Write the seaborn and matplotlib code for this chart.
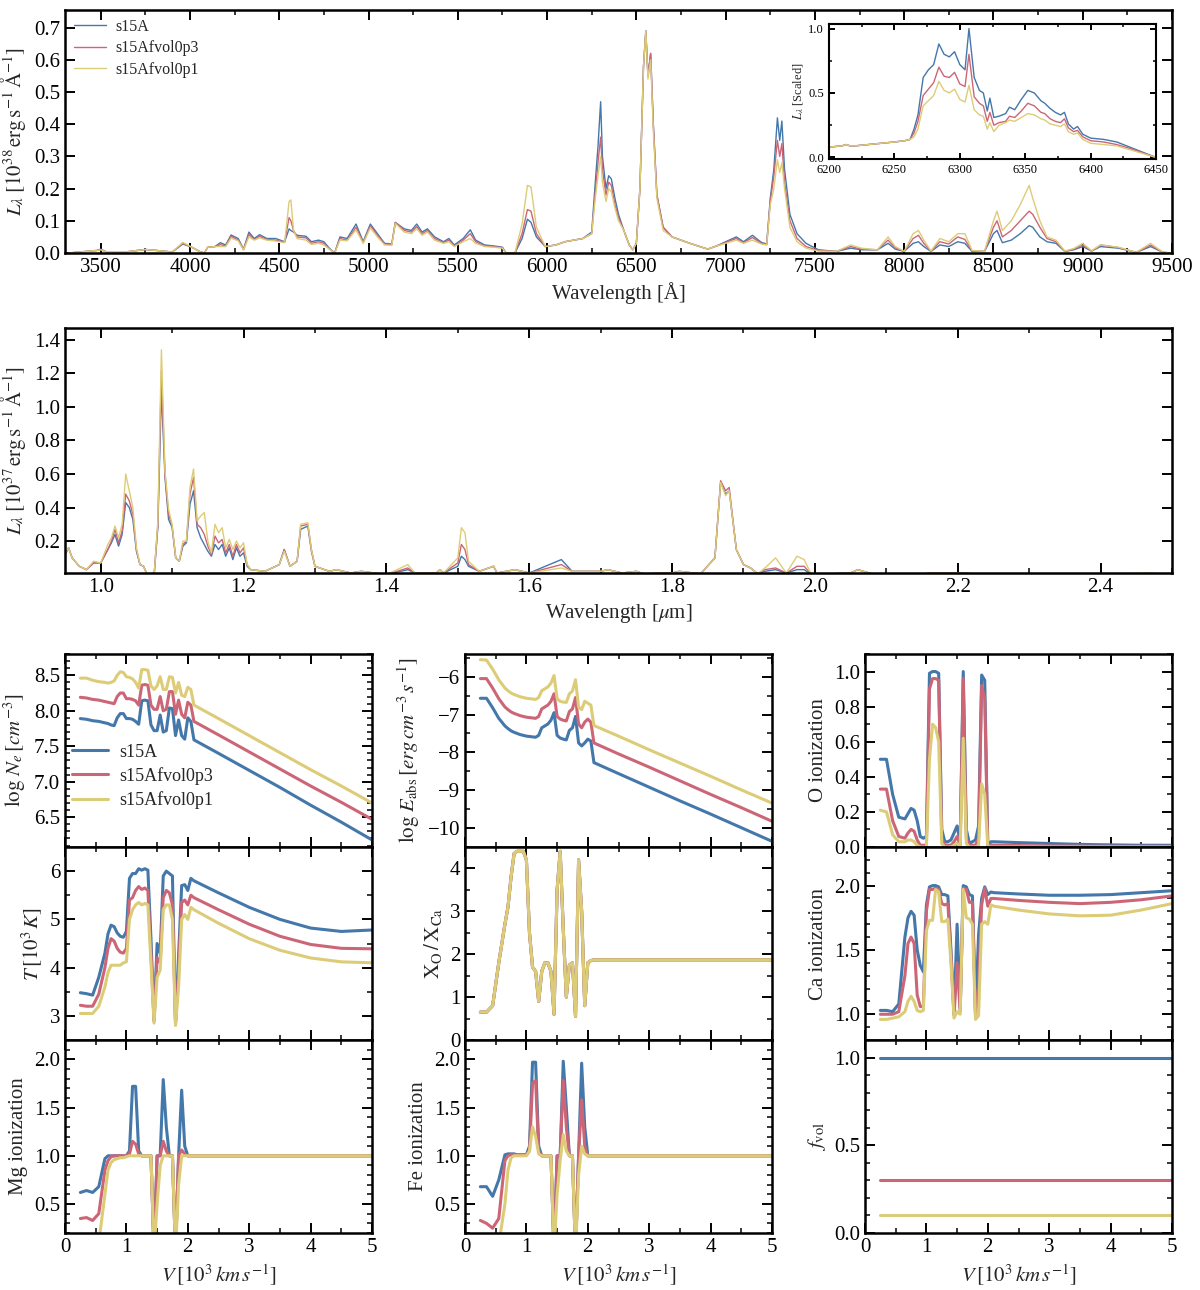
import matplotlib
matplotlib.use("Agg")
import matplotlib.pyplot as plt
from matplotlib.ticker import MultipleLocator, NullLocator
import seaborn as sns

# -------------------------------
# Data
# -------------------------------
names = ["s15A", "s15Afvol0p3", "s15Afvol0p1"]

# optical spectrum, 1e38 erg/s/A
opt_wave = [3320, 3400, 3480, 3500, 3530, 3650, 3750, 3850, 3900, 3960,
            4010, 4060, 4080, 4100, 4140, 4170, 4200, 4230, 4270, 4300,
            4330, 4360, 4390, 4430, 4480, 4530, 4555, 4565, 4580, 4600,
            4650, 4680, 4720, 4750, 4780, 4810, 4840, 4880, 4930, 4970,
            5010, 5050, 5090, 5130, 5150, 5200, 5240, 5270, 5300, 5330,
            5370, 5420, 5450, 5480, 5530, 5570, 5600, 5650, 5700, 5750,
            5770, 5820, 5860, 5890, 5910, 5940, 5990, 6050, 6100, 6150,
            6200, 6250, 6270, 6285, 6300, 6310, 6330, 6345, 6360, 6380,
            6400, 6430, 6460, 6480, 6500, 6520, 6540, 6553, 6565, 6580,
            6595, 6615, 6650, 6700, 6800, 6900, 6950, 7000, 7060, 7100,
            7150, 7200, 7230, 7250, 7270, 7290, 7303, 7315, 7330, 7360,
            7400, 7450, 7520, 7620, 7700, 7760, 7850, 7910, 7950, 8000,
            8050, 8080, 8110, 8150, 8200, 8250, 8300, 8340, 8380, 8450,
            8500, 8520, 8550, 8600, 8650, 8700, 8720, 8760, 8800, 8850,
            8900, 8950, 9000, 9050, 9100, 9200, 9300, 9380, 9450, 9500]
opt_s15A = [0.0, 0.004, 0.008, 0.012, 0.004, 0.004, 0.011, 0.006, 0.003, 0.028,
            0.018, 0.003, 0.0, 0.018, 0.02, 0.032, 0.025, 0.056, 0.045, 0.012,
            0.065, 0.045, 0.057, 0.045, 0.045, 0.035, 0.075, 0.07, 0.065, 0.055,
            0.052, 0.035, 0.04, 0.035, 0.015, 0.0, 0.05, 0.045, 0.09, 0.035,
            0.09, 0.06, 0.03, 0.028, 0.095, 0.075, 0.07, 0.09, 0.065, 0.075,
            0.05, 0.035, 0.045, 0.025, 0.045, 0.072, 0.04, 0.025, 0.022, 0.018,
            0.0, 0.0, 0.045, 0.105, 0.095, 0.05, 0.02, 0.025, 0.035, 0.04,
            0.045, 0.065, 0.22, 0.33, 0.47, 0.3, 0.2, 0.24, 0.23, 0.17,
            0.12, 0.07, 0.025, 0.01, 0.03, 0.2, 0.58, 0.69, 0.55, 0.62,
            0.4, 0.18, 0.08, 0.05, 0.03, 0.012, 0.022, 0.035, 0.05, 0.035,
            0.055, 0.033, 0.028, 0.17, 0.26, 0.42, 0.35, 0.41, 0.26, 0.12,
            0.06, 0.03, 0.01, 0.005, 0.015, 0.01, 0.01, 0.03, 0.012, 0.005,
            0.03, 0.035, 0.02, 0.005, 0.025, 0.02, 0.035, 0.03, 0.005, 0.005,
            0.06, 0.07, 0.032, 0.04, 0.06, 0.085, 0.08, 0.05, 0.035, 0.03,
            0.005, 0.01, 0.02, 0.006, 0.02, 0.015, 0.002, 0.02, 0.002, 0.0]
opt_p3 = [0.0, 0.004, 0.008, 0.01, 0.004, 0.004, 0.011, 0.006, 0.003, 0.03,
          0.018, 0.003, 0.0, 0.018, 0.02, 0.026, 0.022, 0.052, 0.04, 0.01,
          0.058, 0.042, 0.052, 0.042, 0.04, 0.033, 0.11, 0.1, 0.07, 0.05,
          0.047, 0.03, 0.035, 0.03, 0.013, 0.0, 0.045, 0.04, 0.08, 0.032,
          0.085, 0.055, 0.028, 0.026, 0.095, 0.07, 0.065, 0.082, 0.06, 0.07,
          0.045, 0.032, 0.04, 0.022, 0.04, 0.06, 0.035, 0.022, 0.02, 0.016,
          0.0, 0.0, 0.06, 0.135, 0.13, 0.06, 0.02, 0.025, 0.035, 0.04,
          0.045, 0.06, 0.19, 0.28, 0.36, 0.26, 0.18, 0.22, 0.21, 0.15,
          0.11, 0.07, 0.025, 0.01, 0.03, 0.2, 0.58, 0.69, 0.55, 0.62,
          0.4, 0.18, 0.08, 0.05, 0.03, 0.012, 0.022, 0.033, 0.045, 0.032,
          0.048, 0.03, 0.026, 0.16, 0.24, 0.35, 0.3, 0.34, 0.22, 0.1,
          0.045, 0.02, 0.008, 0.005, 0.02, 0.012, 0.01, 0.04, 0.016, 0.005,
          0.045, 0.055, 0.03, 0.005, 0.035, 0.028, 0.05, 0.042, 0.006, 0.005,
          0.08, 0.1, 0.05, 0.07, 0.1, 0.13, 0.12, 0.08, 0.045, 0.035,
          0.005, 0.012, 0.025, 0.006, 0.025, 0.017, 0.002, 0.025, 0.002, 0.0]
opt_p1 = [0.0, 0.004, 0.008, 0.01, 0.004, 0.004, 0.011, 0.006, 0.003, 0.033,
          0.018, 0.003, 0.0, 0.018, 0.02, 0.02, 0.02, 0.046, 0.038, 0.01,
          0.05, 0.04, 0.047, 0.04, 0.037, 0.032, 0.16, 0.165, 0.07, 0.045,
          0.04, 0.027, 0.03, 0.025, 0.012, 0.0, 0.04, 0.038, 0.072, 0.03,
          0.078, 0.05, 0.025, 0.024, 0.092, 0.065, 0.06, 0.075, 0.055, 0.065,
          0.04, 0.03, 0.035, 0.02, 0.035, 0.045, 0.03, 0.02, 0.018, 0.015,
          0.0, 0.0, 0.09, 0.21, 0.205, 0.08, 0.02, 0.025, 0.035, 0.04,
          0.045, 0.06, 0.17, 0.24, 0.3, 0.22, 0.16, 0.2, 0.19, 0.14,
          0.1, 0.07, 0.025, 0.01, 0.03, 0.2, 0.58, 0.69, 0.54, 0.6,
          0.38, 0.17, 0.07, 0.05, 0.03, 0.012, 0.022, 0.03, 0.04, 0.03,
          0.04, 0.028, 0.025, 0.15, 0.2, 0.29, 0.25, 0.28, 0.2, 0.08,
          0.035, 0.015, 0.006, 0.005, 0.025, 0.015, 0.01, 0.05, 0.02, 0.005,
          0.06, 0.07, 0.04, 0.006, 0.045, 0.035, 0.06, 0.06, 0.008, 0.005,
          0.1, 0.13, 0.07, 0.1, 0.15, 0.21, 0.17, 0.1, 0.05, 0.04,
          0.006, 0.014, 0.03, 0.007, 0.025, 0.018, 0.002, 0.03, 0.002, 0.0]

# inset: [OI] 6300,6364 region, scaled
ins_wave = [6200, 6205, 6210, 6213, 6216, 6220, 6230, 6240, 6250, 6258,
            6262, 6265, 6268, 6272, 6276, 6280, 6284, 6288, 6292, 6296,
            6300, 6304, 6307, 6311, 6315, 6318, 6321, 6323, 6326, 6330,
            6335, 6338, 6342, 6347, 6352, 6357, 6362, 6365, 6369, 6373,
            6377, 6380, 6383, 6387, 6390, 6394, 6400, 6410, 6420, 6430,
            6440, 6450]
ins_s15A = [0.08, 0.085, 0.09, 0.1, 0.09, 0.09, 0.1, 0.11, 0.12, 0.13,
            0.14, 0.22, 0.33, 0.62, 0.68, 0.72, 0.88, 0.8, 0.78, 0.82,
            0.72, 0.68, 1.0, 0.62, 0.52, 0.5, 0.36, 0.46, 0.31, 0.32,
            0.34, 0.39, 0.37, 0.45, 0.52, 0.5, 0.44, 0.42, 0.38, 0.35,
            0.33, 0.35, 0.26, 0.22, 0.24, 0.18, 0.15, 0.14, 0.12, 0.08,
            0.04, 0.0]
ins_p3 = [0.08, 0.085, 0.09, 0.1, 0.09, 0.09, 0.1, 0.11, 0.12, 0.13,
          0.14, 0.19, 0.28, 0.48, 0.53, 0.58, 0.7, 0.63, 0.62, 0.66,
          0.57, 0.55, 0.8, 0.47, 0.42, 0.4, 0.28, 0.35, 0.25, 0.27,
          0.28, 0.32, 0.31, 0.36, 0.42, 0.4, 0.35, 0.34, 0.3, 0.28,
          0.27, 0.3, 0.23, 0.2, 0.21, 0.16, 0.13, 0.12, 0.1, 0.07,
          0.035, 0.0]
ins_p1 = [0.08, 0.085, 0.09, 0.1, 0.09, 0.09, 0.1, 0.11, 0.12, 0.13,
          0.14, 0.16, 0.22, 0.4, 0.44, 0.48, 0.59, 0.52, 0.5, 0.53,
          0.45, 0.43, 0.56, 0.37, 0.33, 0.32, 0.22, 0.27, 0.2, 0.25,
          0.27, 0.29, 0.28, 0.31, 0.34, 0.33, 0.3, 0.29, 0.26, 0.25,
          0.24, 0.26, 0.2, 0.18, 0.19, 0.14, 0.11, 0.1, 0.09, 0.06,
          0.03, 0.0]

# near-IR spectrum, 1e37 erg/s/A
nir_wave = [0.95, 0.955, 0.96, 0.97, 0.98, 0.99, 1.0, 1.01, 1.015, 1.02,
            1.025, 1.03, 1.035, 1.04, 1.045, 1.05, 1.055, 1.06, 1.065, 1.075,
            1.08, 1.085, 1.09, 1.095, 1.1, 1.105, 1.11, 1.115, 1.12, 1.125,
            1.13, 1.135, 1.14, 1.145, 1.15, 1.155, 1.16, 1.165, 1.17, 1.175,
            1.18, 1.185, 1.19, 1.195, 1.2, 1.205, 1.21, 1.23, 1.25, 1.257,
            1.265, 1.275, 1.28, 1.29, 1.295, 1.3, 1.32, 1.33, 1.35, 1.365,
            1.4, 1.43, 1.44, 1.47, 1.475, 1.48, 1.5, 1.505, 1.51, 1.515,
            1.53, 1.55, 1.555, 1.58, 1.6, 1.645, 1.66, 1.7, 1.71, 1.73,
            1.75, 1.76, 1.8, 1.81, 1.84, 1.86, 1.868, 1.875, 1.88, 1.89,
            1.9, 1.91, 1.92, 1.93, 1.945, 1.96, 1.975, 1.985, 1.995, 2.05,
            2.06, 2.08, 2.15, 2.16, 2.2, 2.25, 2.3, 2.4, 2.47, 2.5]
nir_s15A = [0.12, 0.16, 0.1, 0.05, 0.03, 0.07, 0.07, 0.15, 0.19, 0.24,
            0.17, 0.24, 0.43, 0.4, 0.33, 0.14, 0.06, 0.05, 0.0, 0.01,
            0.28, 1.1, 0.58, 0.33, 0.28, 0.1, 0.08, 0.17, 0.19, 0.42,
            0.5, 0.28, 0.22, 0.18, 0.14, 0.11, 0.18, 0.15, 0.18, 0.11,
            0.16, 0.09, 0.16, 0.11, 0.13, 0.05, 0.03, 0.02, 0.06, 0.15,
            0.05, 0.08, 0.27, 0.29, 0.14, 0.05, 0.02, 0.03, 0.01, 0.02,
            0.0, 0.03, 0.01, 0.01, 0.03, 0.01, 0.05, 0.11, 0.09, 0.05,
            0.02, 0.05, 0.01, 0.03, 0.01, 0.09, 0.02, 0.02, 0.03, 0.01,
            0.02, 0.005, 0.01, 0.02, 0.005, 0.1, 0.55, 0.48, 0.5, 0.15,
            0.06, 0.04, 0.005, 0.02, 0.03, 0.01, 0.03, 0.03, 0.0, 0.01,
            0.03, 0.005, 0.0, 0.01, 0.01, 0.0, 0.0, 0.0, 0.005, 0.0]
nir_p3 = [0.12, 0.16, 0.1, 0.05, 0.03, 0.07, 0.07, 0.15, 0.2, 0.27,
          0.19, 0.26, 0.48, 0.44, 0.36, 0.15, 0.06, 0.05, 0.0, 0.01,
          0.3, 1.22, 0.6, 0.36, 0.29, 0.1, 0.08, 0.18, 0.2, 0.48,
          0.58, 0.3, 0.28, 0.24, 0.17, 0.12, 0.23, 0.19, 0.21, 0.13,
          0.18, 0.11, 0.18, 0.13, 0.16, 0.06, 0.03, 0.02, 0.06, 0.15,
          0.05, 0.08, 0.29, 0.3, 0.15, 0.05, 0.02, 0.03, 0.01, 0.02,
          0.0, 0.04, 0.01, 0.01, 0.03, 0.01, 0.07, 0.18, 0.15, 0.06,
          0.02, 0.05, 0.01, 0.03, 0.01, 0.06, 0.02, 0.02, 0.03, 0.01,
          0.02, 0.005, 0.01, 0.02, 0.005, 0.1, 0.56, 0.5, 0.52, 0.15,
          0.06, 0.04, 0.005, 0.03, 0.04, 0.01, 0.05, 0.05, 0.0, 0.01,
          0.03, 0.005, 0.0, 0.01, 0.01, 0.0, 0.0, 0.0, 0.005, 0.0]
nir_p1 = [0.13, 0.16, 0.1, 0.05, 0.03, 0.08, 0.07, 0.18, 0.22, 0.29,
          0.22, 0.3, 0.6, 0.5, 0.4, 0.16, 0.06, 0.05, 0.0, 0.01,
          0.32, 1.34, 0.62, 0.39, 0.3, 0.1, 0.08, 0.2, 0.2, 0.52,
          0.63, 0.32, 0.35, 0.37, 0.2, 0.13, 0.3, 0.25, 0.28, 0.16,
          0.21, 0.15, 0.2, 0.16, 0.19, 0.06, 0.03, 0.02, 0.06, 0.14,
          0.05, 0.08, 0.3, 0.31, 0.15, 0.05, 0.02, 0.03, 0.01, 0.02,
          0.0, 0.06, 0.01, 0.01, 0.03, 0.01, 0.1, 0.28, 0.25, 0.08,
          0.02, 0.05, 0.01, 0.03, 0.01, 0.04, 0.02, 0.02, 0.03, 0.01,
          0.02, 0.005, 0.01, 0.02, 0.005, 0.1, 0.55, 0.47, 0.5, 0.15,
          0.06, 0.04, 0.005, 0.04, 0.1, 0.01, 0.11, 0.09, 0.0, 0.01,
          0.03, 0.005, 0.0, 0.01, 0.01, 0.0, 0.0, 0.0, 0.01, 0.0]

# ejecta properties vs velocity (1e3 km/s)
vel = [0.25, 0.35, 0.45, 0.55, 0.65, 0.7, 0.75, 0.8, 0.85, 0.9,
       0.95, 1.0, 1.05, 1.1, 1.15, 1.2, 1.25, 1.3, 1.35, 1.4,
       1.45, 1.5, 1.55, 1.6, 1.65, 1.7, 1.75, 1.8, 1.85, 1.9,
       1.95, 2.0, 2.05, 2.1, 2.5, 3.0, 3.5, 4.0, 4.5, 5.0]

ne_s15A = [7.89, 7.88, 7.86, 7.85, 7.83, 7.82, 7.8, 7.79, 7.9, 7.96,
           7.96, 7.89, 7.89, 7.88, 7.85, 7.81, 8.14, 8.15, 8.14, 7.8,
           7.72, 7.72, 7.94, 7.7, 7.72, 8.04, 8.03, 7.65, 7.87, 7.65,
           7.6, 7.9, 7.85, 7.59, 7.40, 7.16, 6.92, 6.67, 6.43, 6.18]
ne_p3 = [8.19, 8.18, 8.16, 8.15, 8.13, 8.12, 8.11, 8.1, 8.2, 8.25,
         8.25, 8.17, 8.17, 8.16, 8.14, 8.08, 8.36, 8.37, 8.36, 8.08,
         8.02, 8.02, 8.2, 8.0, 8.02, 8.27, 8.27, 7.95, 8.15, 7.95,
         7.9, 8.12, 8.08, 7.85, 7.66, 7.42, 7.18, 6.94, 6.71, 6.47]
ne_p1 = [8.46, 8.46, 8.43, 8.41, 8.4, 8.39, 8.4, 8.42, 8.5, 8.55,
         8.54, 8.48, 8.47, 8.45, 8.4, 8.32, 8.58, 8.58, 8.57, 8.35,
         8.3, 8.35, 8.48, 8.3, 8.3, 8.48, 8.47, 8.25, 8.4, 8.22,
         8.2, 8.33, 8.3, 8.08, 7.89, 7.65, 7.41, 7.17, 6.94, 6.7]

t_s15A = [3.48, 3.46, 3.43, 3.8, 4.3, 4.7, 4.88, 4.85, 4.72, 4.65,
          4.63, 4.75, 5.85, 5.95, 5.95, 6.05, 6.02, 6.05, 6.02, 4.6,
          2.9, 4.5, 4.3, 5.9, 6.0, 5.95, 5.9, 2.85, 4.25, 5.7,
          5.72, 5.6, 5.85, 5.8, 5.55, 5.25, 5.0, 4.82, 4.75, 4.78]
t_p3 = [3.22, 3.2, 3.2, 3.45, 4.0, 4.4, 4.6, 4.55, 4.4, 4.32,
        4.3, 4.4, 5.4, 5.45, 5.6, 5.68, 5.62, 5.65, 5.6, 4.3,
        2.9, 4.2, 4.1, 5.45, 5.6, 5.55, 5.3, 2.85, 3.95, 5.35,
        5.4, 5.3, 5.5, 5.45, 5.2, 4.9, 4.65, 4.48, 4.4, 4.39]
t_p1 = [3.05, 3.05, 3.05, 3.2, 3.6, 3.9, 4.05, 4.05, 4.05, 4.05,
        4.1, 4.12, 5.0, 5.2, 5.3, 5.35, 5.3, 5.33, 5.3, 4.1,
        2.85, 3.8, 3.95, 5.2, 5.3, 5.3, 5.0, 2.8, 3.6, 5.0,
        5.1, 5.0, 5.25, 5.2, 4.92, 4.6, 4.36, 4.2, 4.12, 4.1]

mg_s15A = [0.62, 0.64, 0.62, 0.68, 0.97, 1.0, 1.0, 1.0, 1.0, 1.0,
           1.0, 1.0, 1.05, 1.72, 1.72, 1.05, 1.0, 1.0, 1.0, 1.0,
           0.0, 1.0, 1.0, 1.79, 1.3, 1.0, 1.0, 0.0, 1.0, 1.68,
           1.1, 1.0, 1.0, 1.0, 1.0, 1.0, 1.0, 1.0, 1.0, 1.0]
mg_p3 = [0.35, 0.36, 0.33, 0.4, 0.85, 0.95, 0.99, 1.0, 1.0, 1.0,
         1.0, 1.0, 1.02, 1.15, 1.12, 1.02, 1.0, 1.0, 1.0, 1.0,
         0.0, 1.0, 1.0, 1.15, 1.05, 1.0, 1.0, 0.0, 1.0, 1.06,
         1.02, 1.0, 1.0, 1.0, 1.0, 1.0, 1.0, 1.0, 1.0, 1.0]
mg_p1 = [0.05, 0.05, 0.05, 0.1, 0.6, 0.85, 0.93, 0.96, 0.97, 0.98,
         0.98, 0.99, 1.0, 1.0, 1.0, 1.0, 1.0, 1.0, 1.0, 1.0,
         0.0, 0.5, 0.9, 1.0, 1.0, 1.0, 1.0, 0.0, 0.7, 1.0,
         1.0, 1.0, 1.0, 1.0, 1.0, 1.0, 1.0, 1.0, 1.0, 1.0]

eabs_s15A = [-6.57, -6.57, -6.82, -7.1, -7.3, -7.37, -7.43, -7.47, -7.5, -7.53,
             -7.55, -7.57, -7.58, -7.59, -7.6, -7.55, -7.35, -7.3, -7.25, -7.15,
             -6.95, -7.55, -7.62, -7.65, -7.67, -7.42, -7.35, -7.05, -7.75, -7.83,
             -7.75, -7.65, -7.7, -8.27, -8.56, -8.92, -9.28, -9.63, -9.99, -10.35]
eabs_p3 = [-6.05, -6.05, -6.3, -6.58, -6.8, -6.87, -6.93, -6.97, -7.0, -7.03,
           -7.05, -7.07, -7.08, -7.09, -7.1, -7.05, -6.85, -6.8, -6.75, -6.65,
           -6.45, -7.05, -7.12, -7.15, -7.17, -6.92, -6.85, -6.55, -7.25, -7.35,
           -7.2, -7.12, -7.2, -7.75, -8.04, -8.39, -8.75, -9.11, -9.46, -9.82]
eabs_p1 = [-5.55, -5.56, -5.8, -6.08, -6.3, -6.37, -6.43, -6.47, -6.5, -6.53,
           -6.55, -6.57, -6.58, -6.59, -6.6, -6.55, -6.37, -6.32, -6.27, -6.17,
           -5.97, -6.58, -6.65, -6.67, -6.68, -6.45, -6.38, -6.08, -6.8, -6.87,
           -6.65, -6.7, -6.75, -7.29, -7.57, -7.93, -8.28, -8.63, -8.99, -9.34]

# same composition in all three models
xo_xca = [0.65, 0.65, 0.8, 1.8, 2.7, 3.1, 3.8, 4.35, 4.4, 4.4,
          4.4, 4.2, 2.5, 1.7, 1.6, 0.9, 1.6, 1.8, 1.8, 1.6,
          0.6, 3.5, 4.4, 2.6, 1.0, 1.75, 1.8, 0.55, 4.2, 3.0,
          0.8, 1.8, 1.85, 1.87, 1.87, 1.87, 1.87, 1.87, 1.87, 1.87]

fe_s15A = [0.68, 0.68, 0.58, 0.75, 1.01, 1.02, 1.02, 1.02, 1.01, 1.01,
           1.01, 1.01, 1.1, 1.97, 1.97, 1.1, 1.0, 1.0, 1.0, 1.0,
           0.0, 1.0, 1.0, 1.98, 1.5, 1.0, 1.0, 0.0, 1.0, 1.96,
           1.3, 1.0, 1.0, 1.0, 1.0, 1.0, 1.0, 1.0, 1.0, 1.0]
fe_p3 = [0.33, 0.3, 0.25, 0.35, 0.95, 1.0, 1.01, 1.01, 1.01, 1.01,
         1.01, 1.01, 1.05, 1.75, 1.78, 1.05, 1.0, 1.0, 1.0, 1.0,
         0.0, 1.0, 1.0, 1.78, 1.3, 1.0, 1.0, 0.0, 1.0, 1.58,
         1.1, 1.0, 1.0, 1.0, 1.0, 1.0, 1.0, 1.0, 1.0, 1.0]
fe_p1 = [0.05, 0.05, 0.05, 0.08, 0.5, 0.85, 0.98, 1.0, 1.0, 1.0,
         1.0, 1.0, 1.05, 1.3, 1.2, 1.02, 1.0, 1.0, 1.0, 1.0,
         0.0, 0.6, 0.95, 1.22, 1.05, 1.0, 1.0, 0.0, 0.8, 1.1,
         1.02, 1.0, 1.0, 1.0, 1.0, 1.0, 1.0, 1.0, 1.0, 1.0]

o_s15A = [0.5, 0.5, 0.3, 0.17, 0.16, 0.19, 0.22, 0.21, 0.15, 0.06,
          0.05, 0.06, 0.99, 1.0, 1.0, 0.99, 0.1, 0.03, 0.03, 0.04,
          0.08, 0.12, 0.03, 1.0, 0.1, 0.02, 0.03, 0.04, 0.12, 0.98,
          0.95, 0.0, 0.03, 0.03, 0.025, 0.02, 0.015, 0.012, 0.01, 0.01]
o_p3 = [0.33, 0.33, 0.15, 0.06, 0.05, 0.08, 0.1, 0.09, 0.04, 0.01,
        0.01, 0.01, 0.9, 0.96, 0.96, 0.95, 0.05, 0.01, 0.01, 0.01,
        0.03, 0.06, 0.01, 0.96, 0.05, 0.01, 0.01, 0.01, 0.05, 0.92,
        0.85, 0.0, 0.01, 0.01, 0.008, 0.006, 0.005, 0.004, 0.004, 0.004]
o_p1 = [0.21, 0.2, 0.07, 0.03, 0.03, 0.04, 0.04, 0.03, 0.01, 0.0,
        0.0, 0.0, 0.5, 0.7, 0.68, 0.6, 0.02, 0.0, 0.0, 0.0,
        0.01, 0.02, 0.0, 0.62, 0.02, 0.0, 0.0, 0.0, 0.01, 0.36,
        0.3, 0.0, 0.0, 0.0, 0.0, 0.0, 0.0, 0.0, 0.0, 0.0]

ca_s15A = [1.03, 1.03, 1.02, 1.08, 1.6, 1.75, 1.8, 1.77, 1.5, 1.38,
           1.33, 1.85, 1.99, 2.0, 2.0, 1.99, 1.93, 1.93, 1.92, 1.5,
           1.0, 1.7, 1.05, 2.0, 1.99, 1.93, 1.92, 1.0, 1.62, 1.9,
           1.99, 1.93, 1.95, 1.945, 1.935, 1.925, 1.925, 1.93, 1.945, 1.96]
ca_p3 = [1.0, 1.0, 1.0, 1.02, 1.3, 1.55, 1.6, 1.55, 1.15, 1.06,
         1.06, 1.8, 1.97, 1.97, 1.98, 1.97, 1.86, 1.85, 1.86, 1.45,
         0.99, 1.4, 1.02, 1.98, 1.97, 1.87, 1.87, 0.99, 1.22, 1.85,
         1.98, 1.84, 1.9, 1.9, 1.885, 1.87, 1.86, 1.87, 1.89, 1.92]
ca_p1 = [0.96, 0.96, 0.97, 0.98, 1.02, 1.1, 1.14, 1.1, 1.03, 1.02,
         1.03, 1.65, 1.73, 1.73, 1.97, 1.95, 1.72, 1.72, 1.74, 1.4,
         0.97, 1.02, 1.0, 1.97, 1.75, 1.74, 1.7, 0.96, 0.99, 1.7,
         1.72, 1.7, 1.85, 1.84, 1.81, 1.78, 1.765, 1.77, 1.81, 1.86]

fvol_vel = [0.25, 5.0]
fvol_s15A = [1.0, 1.0]
fvol_p3 = [0.3, 0.3]
fvol_p1 = [0.1, 0.1]

# -------------------------------
# Style
# -------------------------------
sns.set_style("ticks", {"xtick.direction": "in", "ytick.direction": "in"})
plt.rcParams["font.family"] = ["Liberation Serif", "DejaVu Serif"]
plt.rcParams["mathtext.fontset"] = "stix"

colors = ["#4477AA", "#CC6677", "#DDCC77"]
FS = 15


def style_axes(ax, xmaj, xmin, ymaj, ymin, size=FS, spine=1.8):
    ax.xaxis.set_major_locator(MultipleLocator(xmaj))
    ax.xaxis.set_minor_locator(MultipleLocator(xmin) if xmin else NullLocator())
    ax.yaxis.set_major_locator(MultipleLocator(ymaj))
    ax.yaxis.set_minor_locator(MultipleLocator(ymin) if ymin else NullLocator())
    ax.tick_params(which="both", direction="in", top=True, right=True,
                   labelsize=size, colors="black")
    ax.tick_params(which="major", length=7, width=1.4)
    ax.tick_params(which="minor", length=3.5, width=1.1)
    for s in ax.spines.values():
        s.set_linewidth(spine)
        s.set_color("black")


def draw(ax, x, series, lw, labels=None):
    for i, y in enumerate(series):
        sns.lineplot(x=x, y=y, ax=ax, color=colors[i], lw=lw,
                     estimator=None, sort=False,
                     label=labels[i] if labels else None, legend=False)


fig = plt.figure(figsize=(12, 12.9), dpi=100)
W, H = 1200.0, 1290.0


def box(left, top, right, bottom):
    return [left / W, 1 - bottom / H, (right - left) / W, (bottom - top) / H]


# -------------------------------
# Optical spectrum + inset
# -------------------------------
ax1 = fig.add_axes(box(65, 10, 1172, 253))
draw(ax1, opt_wave, [opt_s15A, opt_p3, opt_p1], 1.0, names)
ax1.set_xlim(3300, 9500)
ax1.set_ylim(0, 0.755)
style_axes(ax1, 500, 250, 0.1, None)
ax1.set_xlabel("Wavelength [Å]", fontsize=FS)
ax1.set_ylabel(r"$L_\lambda\;[10^{38}\,\mathrm{erg\,s^{-1}\,Å^{-1}}]$", fontsize=FS)
ax1.legend(loc="upper left", bbox_to_anchor=(0.0, 1.0), frameon=False,
           fontsize=11.5, handlelength=2.0, handletextpad=0.6,
           borderaxespad=0.15, labelspacing=0.35)

axin = fig.add_axes(box(829, 24, 1156, 159))
draw(axin, ins_wave, [ins_s15A, ins_p3, ins_p1], 1.0)
axin.set_xlim(6200, 6450)
axin.set_ylim(-0.012, 1.035)
style_axes(axin, 50, 25, 0.5, 0.25, size=9, spine=1.5)
axin.tick_params(which="major", length=4)
axin.tick_params(which="minor", length=2)
axin.set_ylabel(r"$L_\lambda$ [Scaled]", fontsize=9, labelpad=2)

# -------------------------------
# Near-IR spectrum
# -------------------------------
ax2 = fig.add_axes(box(65, 328, 1172, 573))
draw(ax2, nir_wave, [nir_s15A, nir_p3, nir_p1], 1.0)
ax2.set_xlim(0.95, 2.5)
ax2.set_ylim(0.01, 1.47)
style_axes(ax2, 0.2, 0.1, 0.2, None)
ax2.set_xlabel(r"Wavelength [$\mu$m]", fontsize=FS)
ax2.set_ylabel(r"$L_\lambda\;[10^{37}\,\mathrm{erg\,s^{-1}\,Å^{-1}}]$", fontsize=FS)

# -------------------------------
# Ejecta properties grid
# -------------------------------
cols = [65, 465, 865]
rows = [654, 847, 1040, 1233]

panels = [
    # (col, row, data, ylim, ymaj, ymin, ylabel)
    (0, 0, [ne_s15A, ne_p3, ne_p1], (6.08, 8.8), 0.5, 0.1, r"$\log\,N_e\,[cm^{-3}]$"),
    (0, 1, [t_s15A, t_p3, t_p1], (2.5, 6.5), 1, 0.5, r"$T\,[10^3\,K]$"),
    (0, 2, [mg_s15A, mg_p3, mg_p1], (0.2, 2.2), 0.5, 0.1, "Mg ionization"),
    (1, 0, [eabs_s15A, eabs_p3, eabs_p1], (-10.5, -5.4), 1, 0.5,
     r"$\log\,E_{\rm abs}\,[erg\,cm^{-3}\,s^{-1}]$"),
    (1, 1, [xo_xca, xo_xca, xo_xca], (0, 4.5), 1, 0.5, r"$\mathrm{X_O\,/\,X_{Ca}}$"),
    (1, 2, [fe_s15A, fe_p3, fe_p1], (0.2, 2.2), 0.5, 0.1, "Fe ionization"),
    (2, 0, [o_s15A, o_p3, o_p1], (0, 1.1), 0.2, 0.1, "O ionization"),
    (2, 1, [ca_s15A, ca_p3, ca_p1], (0.8, 2.3), 0.5, 0.1, "Ca ionization"),
    (2, 2, [fvol_s15A, fvol_p3, fvol_p1], (0, 1.1), 0.5, 0.1, r"$f_{\rm vol}$"),
]

for c, r, data, ylim, ymaj, ymin, ylab in panels:
    ax = fig.add_axes(box(cols[c], rows[r], cols[c] + 307, rows[r + 1]))
    x = fvol_vel if (c == 2 and r == 2) else vel
    labels = names if (c == 0 and r == 0) else None
    draw(ax, x, data, 2.2, labels)
    ax.set_xlim(0, 5)
    ax.set_ylim(*ylim)
    style_axes(ax, 1, 0.5, ymaj, ymin)
    ax.set_ylabel(ylab, fontsize=FS)
    if r < 2:
        ax.tick_params(labelbottom=False)
    else:
        ax.set_xlabel(r"$V\,[10^3\,km\,s^{-1}]$", fontsize=FS)
    if labels:
        ax.legend(loc="lower left", bbox_to_anchor=(0.0, 0.16), frameon=False,
                  fontsize=13, handlelength=2.0, handletextpad=0.6,
                  borderaxespad=0.0, labelspacing=0.35)

fig.savefig("out.png", dpi=100)
